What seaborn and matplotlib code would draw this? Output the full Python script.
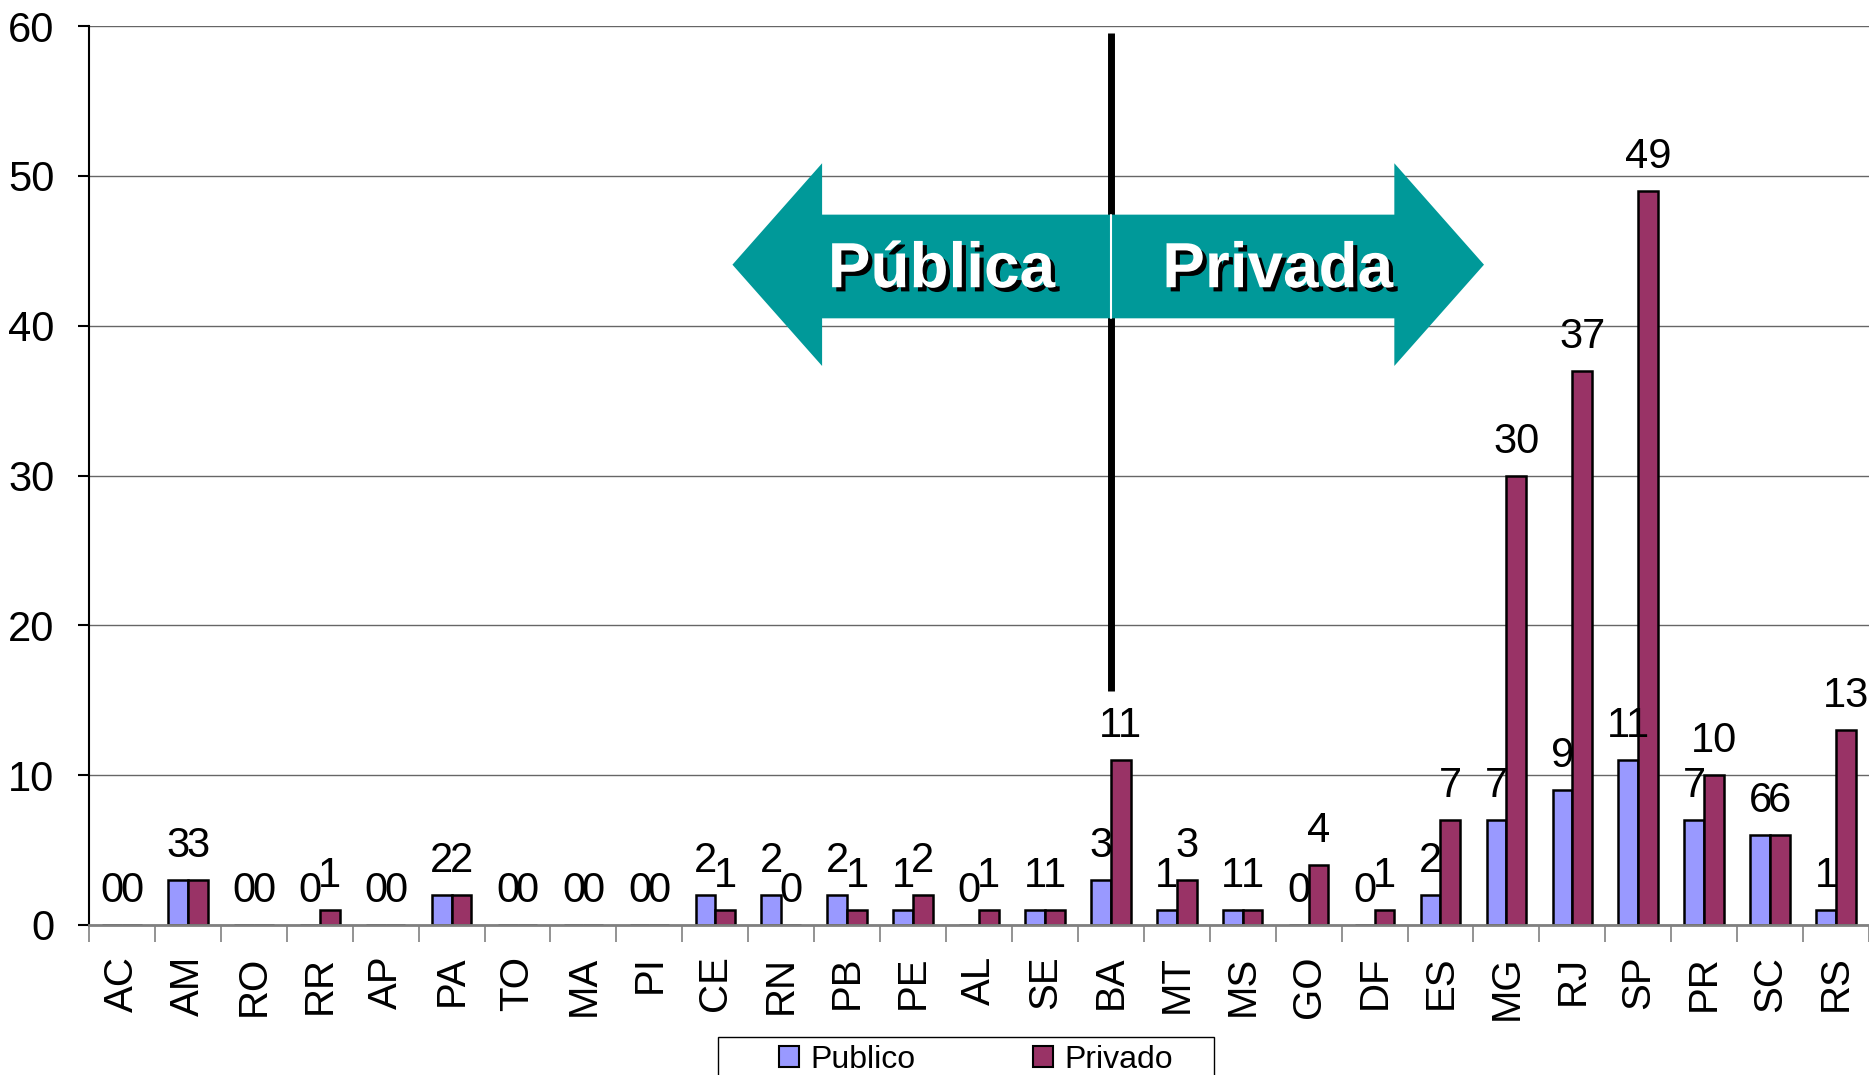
import numpy as np
import pandas as pd
import matplotlib.pyplot as plt
import matplotlib.patheffects as pe
import seaborn as sns
from matplotlib.patches import Polygon, Rectangle, Patch

estados = ["AC", "AM", "RO", "RR", "AP", "PA", "TO", "MA", "PI", "CE", "RN", "PB", "PE", "AL",
           "SE", "BA", "MT", "MS", "GO", "DF", "ES", "MG", "RJ", "SP", "PR", "SC", "RS"]
publico = [0, 3, 0, 0, 0, 2, 0, 0, 0, 2, 2, 2, 1, 0, 1, 3, 1, 1, 0, 0, 2, 7, 9, 11, 7, 6, 1]
privado = [0, 3, 0, 1, 0, 2, 0, 0, 0, 1, 0, 1, 2, 1, 1, 11, 3, 1, 4, 1, 7, 30, 37, 49, 10, 6, 13]
series = ["Publico", "Privado"]
cores = {"Publico": "#9999FF", "Privado": "#993366"}

df = pd.DataFrame({
    "estado": estados * 2,
    "valor": publico + privado,
    "setor": ["Publico"] * len(estados) + ["Privado"] * len(estados),
})

sns.set_theme(style="white")
plt.rcParams["font.family"] = ["Liberation Sans", "DejaVu Sans"]
plt.rcParams["text.color"] = "black"
plt.rcParams["xtick.color"] = "black"
plt.rcParams["ytick.color"] = "black"

W, H = 1869, 1075
fig = plt.figure(figsize=(W / 100, H / 100), dpi=100)
ax = fig.add_axes([89 / W, 1 - 925 / H, 1 - 89 / W, (925 - 26) / H])

sns.barplot(data=df, x="estado", y="valor", hue="setor", hue_order=series, palette=cores,
            width=0.6, edgecolor="black", linewidth=1.8, saturation=1, legend=False, ax=ax)

for cont, vals in zip(ax.containers, [publico, privado]):
    ax.bar_label(cont, labels=[str(v) for v in vals], padding=10, fontsize=30, color="black")

ax.set_ylim(0, 60)
ax.set_yticks(range(0, 61, 10))
ax.set_xlim(-0.5, len(estados) - 0.5)
ax.set_xlabel("")
ax.set_ylabel("")
ax.yaxis.grid(True, color="#666666", lw=1)
ax.set_axisbelow(True)

ax.set_xticks(range(len(estados)))
ax.set_xticklabels(estados, rotation=90)
ax.set_xticks(np.arange(-0.5, len(estados), 1), minor=True)
ax.tick_params(axis="x", which="major", length=0, pad=22, labelsize=29, bottom=True)
ax.tick_params(axis="x", which="minor", length=12, width=1.2, color="#808080", bottom=True)
ax.tick_params(axis="y", length=8, width=1.5, pad=17, labelsize=30, left=True, color="black")

for s in ["top", "right"]:
    ax.spines[s].set_visible(False)
ax.spines["left"].set_color("black")
ax.spines["left"].set_linewidth(1.5)
ax.spines["bottom"].set_color("#808080")
ax.spines["bottom"].set_linewidth(2)

# divisoria publica / privada
cx = 15.0
ax.plot([cx, cx], [15.6, 59.5], color="black", lw=5, zorder=3, solid_capstyle="butt")

tip_l, base_l, base_r, tip_r = 9.26, 10.62, 19.3, 20.66
y_mid, head_top, head_bot, body_top, body_bot = 44.07, 50.84, 37.31, 47.41, 40.49
teal = "#009999"
seta_esq = [(tip_l, y_mid), (base_l, head_top), (base_l, body_top), (cx, body_top),
            (cx, body_bot), (base_l, body_bot), (base_l, head_bot)]
seta_dir = [(tip_r, y_mid), (base_r, head_top), (base_r, body_top), (cx, body_top),
            (cx, body_bot), (base_r, body_bot), (base_r, head_bot)]
for pts in (seta_esq, seta_dir):
    ax.add_patch(Polygon(pts, closed=True, facecolor=teal, edgecolor="none", zorder=4))
ax.plot([cx, cx], [body_bot, body_top], color="white", lw=1.5, zorder=5)

sombra = [pe.SimplePatchShadow(offset=(3, -3), shadow_rgbFace="black", alpha=1), pe.Normal()]
ax.text(12.43, 43.7, "Pública", ha="center", va="center", fontsize=46, fontweight="bold",
        color="white", zorder=6, path_effects=sombra)
ax.text(17.53, 43.7, "Privada", ha="center", va="center", fontsize=46, fontweight="bold",
        color="white", zorder=6, path_effects=sombra)

handles = [Patch(facecolor=cores[s], edgecolor="black", lw=1.5) for s in series]
fig.legend(handles, series, ncol=2, loc="upper left", bbox_to_anchor=(779 / W, 1 - 1045 / H),
           frameon=False, fontsize=23, handlelength=0.62, handleheight=0.62, handletextpad=0.35,
           columnspacing=3.7, borderpad=0, borderaxespad=0)
fig.add_artist(Rectangle((718 / W, -0.01), (1214 - 718) / W, 0.01 + 1 - 1037 / H,
                         transform=fig.transFigure, fill=False, edgecolor="black", lw=1))

fig.savefig("out.png", dpi=100)
